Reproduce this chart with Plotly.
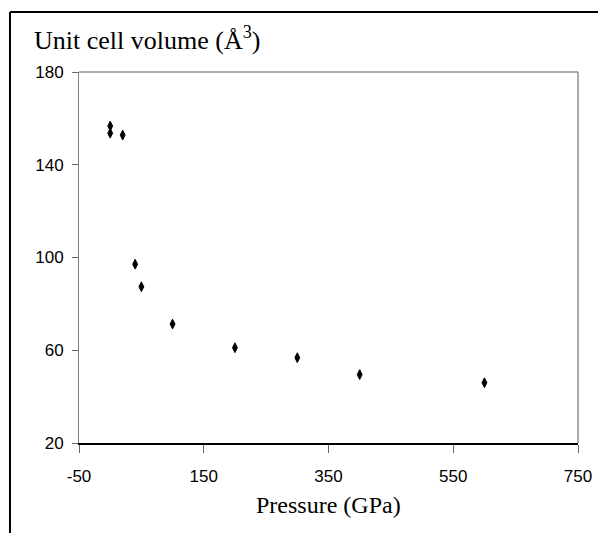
import plotly.graph_objects as go

pressure_gpa = [0, 0, 20, 40, 50, 100, 200, 300, 400, 600]
cell_volume = [156.7, 153.6, 152.8, 97.1, 87.4, 71.3, 61.1, 56.8, 49.5, 46.0]

x_ticks = [-50, 150, 350, 550, 750]
y_ticks = [20, 60, 100, 140, 180]

fig = go.Figure()
fig.add_trace(go.Scatter(
    x=pressure_gpa, y=cell_volume, mode="markers",
    marker=dict(symbol="diamond-tall", size=7, color="black",
                line=dict(color="black", width=1)),
    showlegend=False, cliponaxis=False,
))

tick_font = dict(family="Liberation Sans, Arial, sans-serif", size=17, color="black")
serif_x = dict(family="Liberation Serif, Times New Roman, serif", size=24, color="black")
serif_y = dict(family="Liberation Serif, Times New Roman, serif", size=26, color="black")

fig.update_layout(
    width=598, height=533,
    margin=dict(l=79, r=20, t=72, b=90, autoexpand=False),
    paper_bgcolor="white", plot_bgcolor="white",
    xaxis=dict(range=[-50, 750], tickvals=x_ticks, ticktext=[str(v) for v in x_ticks],
               showgrid=False, zeroline=False, showline=True, linecolor="black", linewidth=2,
               ticks="outside", ticklen=8, tickcolor="#666666", tickwidth=1,
               ticklabelstandoff=9,
               tickfont=tick_font, fixedrange=True),
    yaxis=dict(range=[20, 180], tickvals=y_ticks, ticktext=[str(v) for v in y_ticks],
               showgrid=False, zeroline=False, showline=True, linecolor="#808080", linewidth=1,
               ticks="outside", ticklen=6, tickcolor="#666666", tickwidth=1,
               ticklabelstandoff=5,
               tickfont=tick_font, fixedrange=True),
    shapes=[
        dict(type="line", xref="paper", yref="paper", x0=0, x1=1, y0=1, y1=1,
             line=dict(color="#909090", width=1.5)),
        dict(type="line", xref="paper", yref="paper", x0=1, x1=1, y0=0, y1=1,
             line=dict(color="#909090", width=1.5)),
        dict(type="line", xref="paper", yref="paper", x0=-0.1383, x1=-0.1383, y0=1.1617, y1=-0.3,
             line=dict(color="black", width=2)),
        dict(type="line", xref="paper", yref="paper", x0=-0.1383, x1=1.06, y0=1.1617, y1=1.1617,
             line=dict(color="black", width=2)),
    ],
    annotations=[
        dict(text="Unit cell volume (Å<sup>3</sup>)", xref="paper", yref="paper",
             x=-0.0942, y=1.089, xanchor="left", yanchor="middle", showarrow=False, font=serif_y),
        dict(text="Pressure (GPa)", xref="paper", yref="paper",
             x=0.501, y=-0.167, xanchor="center", yanchor="middle", showarrow=False, font=serif_x),
    ],
)

page_fix = ("document.body.style.margin='0';"
            "document.documentElement.style.overflow='hidden';"
            "document.body.style.overflow='hidden';")

fig.write_html("out.html", post_script=page_fix, config={"displayModeBar": False})
